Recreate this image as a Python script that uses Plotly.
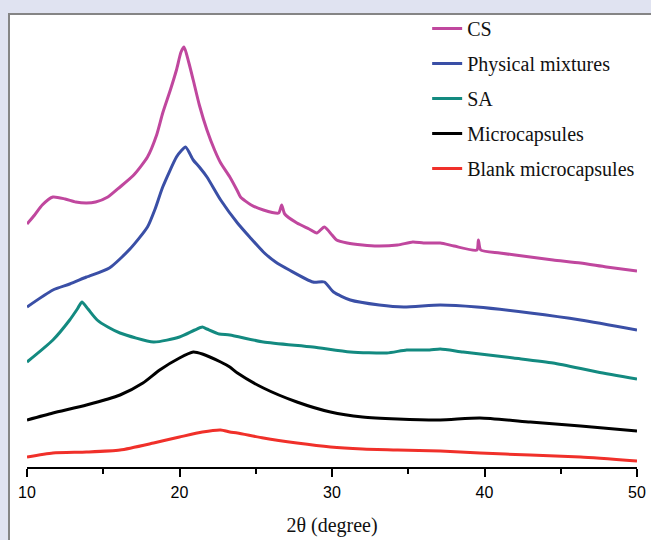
import plotly.graph_objects as go

# ---- data (2θ in degrees, intensity in arbitrary offset units) ----
cs_x = [10.0, 10.5, 11.0, 11.7, 12.5, 13.2, 13.9, 14.5, 15.3, 16.1, 17.0, 17.9, 18.5, 18.9,
        19.4, 19.8, 20.1, 20.3, 20.6, 20.9, 21.3, 21.8, 22.3, 22.7, 23.3, 23.8, 24.0, 24.7,
        25.5, 26.5, 26.7, 26.9, 27.7, 28.5, 29.0, 29.5, 30.0, 30.3, 31.0, 32.0, 33.0, 34.3,
        35.3, 36.0, 37.1, 38.0, 39.5, 39.6, 39.75, 41.0, 43.0, 44.5, 46.3, 48.0, 50.0]
cs_y = [243, 252, 262, 270, 268, 265, 264, 265, 270, 280, 292, 310, 332, 354,
        377, 397, 415, 420, 405, 387, 362, 337, 317, 304, 290, 276, 270, 262,
        257, 254, 262, 253, 244, 238, 234, 240, 232, 227, 224, 222, 221, 222,
        225, 224, 224, 221, 217, 227, 217, 214, 210, 207, 204, 200, 196]

pm_x = [10.0, 11.7, 12.8, 13.9, 15.4, 16.75, 17.9, 18.4, 18.9, 19.8, 20.1, 20.4, 20.9, 21.3,
        21.8, 22.7, 23.8, 24.6, 25.5, 26.3, 27.2, 28.75, 29.5, 30.1, 31.2, 33.1, 34.7, 37.1,
        39.5, 43.0, 46.3, 50.0]
pm_y = [160, 177, 183, 190, 199, 218, 240, 258, 280, 310, 316, 320, 307, 300,
        290, 267, 244, 230, 215, 205, 197, 185, 185, 175, 167, 162, 160, 162,
        160, 154, 147, 137]

sa_x = [10.0, 11.7, 12.8, 13.3, 13.6, 14.0, 14.6, 15.3, 16.1, 18.3, 20.0, 21.0, 21.5, 21.8,
        22.6, 23.3, 25.5, 28.75, 31.2, 33.6, 34.9, 36.4, 37.1, 38.6, 41.9, 44.5, 47.4, 50.0]
sa_y = [105, 127, 147, 158, 165, 158, 147, 140, 134, 125, 130, 137, 140, 138,
        133, 132, 125, 120, 115, 114, 117, 117, 118, 115, 109, 104, 95, 88]

mc_x = [10.0, 11.7, 13.9, 16.1, 17.6, 18.7, 20.0, 20.9, 21.5, 22.7, 23.3, 23.8, 25.5, 27.7,
        29.9, 32.0, 34.3, 37.1, 39.7, 43.0, 46.3, 50.0]
mc_y = [47, 54, 62, 72, 84, 97, 109, 115, 113, 105, 100, 94, 79, 65,
        55, 50, 48, 47, 49, 45, 41, 36]

bm_x = [10.0, 11.7, 13.9, 16.1, 18.3, 20.0, 21.5, 22.7, 23.3, 23.8, 25.5, 27.7, 29.9, 32.0,
        34.3, 37.1, 39.7, 43.0, 46.3, 50.0]
bm_y = [10, 14, 15, 17, 24, 30, 35, 37, 35, 34, 29, 24, 20, 18,
        17, 16, 14, 12, 10, 6]

names = ["CS", "Physical mixtures", "SA", "Microcapsules", "Blank microcapsules"]
colors = ["#c0479e", "#3a4fa6", "#138a80", "#000000", "#f0302a"]
xs = [cs_x, pm_x, sa_x, mc_x, bm_x]
ys = [cs_y, pm_y, sa_y, mc_y, bm_y]

x_ticks = [10, 20, 30, 40, 50]

fig = go.Figure()
for n, c, x, y in zip(names, colors, xs, ys):
    fig.add_trace(go.Scatter(x=x, y=y, mode="lines", name=n, legendgroup=n,
                             line=dict(color=c, width=3, shape="spline", smoothing=0.6)))

fig.add_shape(type="rect", xref="paper", yref="paper",
              x0=-0.0295, x1=1.2, y0=-0.5, y1=1.0,
              fillcolor="white", line=dict(color="#858585", width=2), layer="below")

fig.update_layout(
    width=651, height=540,
    margin=dict(l=27, r=14, t=14, b=73, autoexpand=False),
    paper_bgcolor="#e0e3f1",
    plot_bgcolor="rgba(0,0,0,0)",
    showlegend=True,
    legend=dict(x=0.656, y=1.011, xanchor="left", yanchor="top",
                bgcolor="rgba(0,0,0,0)", tracegroupgap=6,
                font=dict(family="Liberation Serif", size=20, color="#111"),
                itemwidth=30),
    xaxis=dict(range=[10, 50], tickvals=x_ticks, ticks="outside", ticklen=8, tickwidth=1.5,
               showline=True, linecolor="#000", linewidth=1.5, showgrid=False, zeroline=False,
               automargin=False, ticklabelstandoff=2,
               tickfont=dict(family="Liberation Sans", size=16, color="#000"),
               minor=dict(dtick=5, ticks="outside", ticklen=5, tickwidth=1.5, tickcolor="#000"),
               tickcolor="#000",
               title=dict(text="2θ (degree)", standoff=18,
                          font=dict(family="Liberation Serif", size=20, color="#111"))),
    yaxis=dict(range=[0, 453], visible=False),
)

fig.write_html("out.html")
